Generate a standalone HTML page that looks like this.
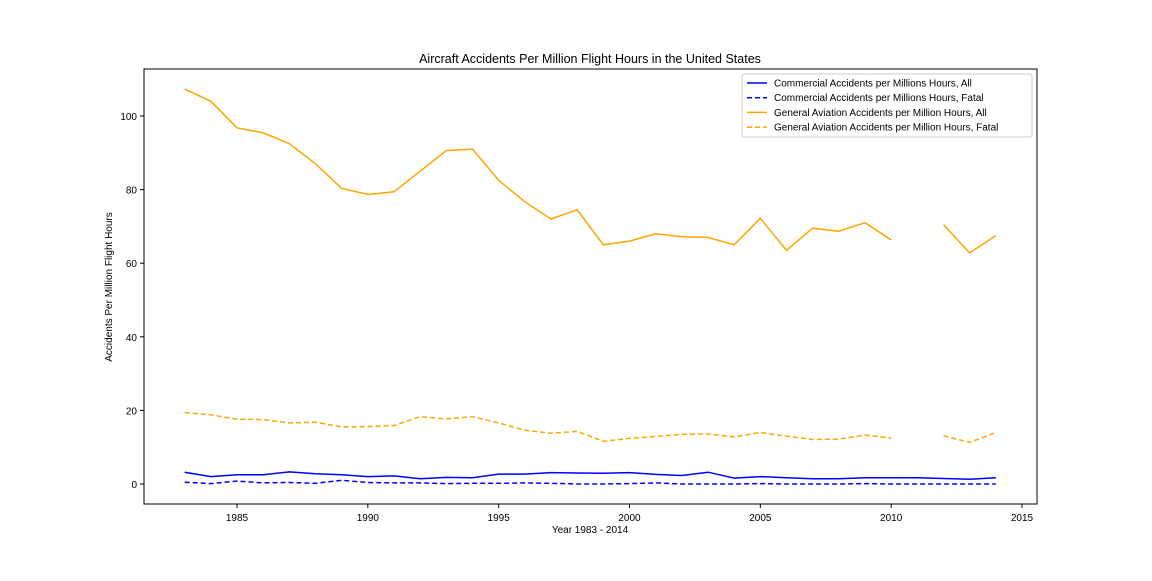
<!DOCTYPE html>
<html><head><meta charset="utf-8"><style>
body{margin:0;background:#fff;font-family:"Liberation Sans","DejaVu Sans",sans-serif;}
svg text{font-family:"Liberation Sans","DejaVu Sans",sans-serif;fill:#000;}
</style></head><body>
<svg id="chart" width="1152" height="576" xmlns="http://www.w3.org/2000/svg"></svg>
<script>
const years=[1983,1984,1985,1986,1987,1988,1989,1990,1991,1992,1993,1994,1995,1996,1997,1998,1999,2000,2001,2002,2003,2004,2005,2006,2007,2008,2009,2010,2011,2012,2013,2014];
const commAll=[3.2,2.0,2.5,2.5,3.3,2.8,2.5,2.0,2.2,1.4,1.8,1.7,2.7,2.7,3.1,3.0,2.9,3.1,2.6,2.3,3.2,1.6,2.0,1.7,1.4,1.4,1.7,1.7,1.7,1.5,1.3,1.7];
const commFatal=[0.5,0.1,0.8,0.3,0.4,0.2,1.0,0.4,0.3,0.3,0.1,0.2,0.2,0.3,0.2,0.0,0.0,0.1,0.3,0.0,0.0,0.0,0.1,0.0,0.0,0.0,0.1,0.0,0.0,0.0,0.0,0.0];
const gaAll=[107.3,104,96.8,95.4,92.5,87,80.3,78.7,79.4,85,90.6,91,82.5,76.7,72,74.5,65,66,68,67.2,67,65,72.2,63.5,69.5,68.7,71,66.3,null,70.5,62.8,67.5];
const gaFatal=[19.4,18.8,17.6,17.5,16.6,16.8,15.5,15.6,15.9,18.3,17.7,18.3,16.6,14.6,13.8,14.3,11.6,12.4,12.9,13.5,13.6,12.8,14,13,12.1,12.2,13.3,12.5,null,13.1,11.3,14];
const xTicks=[1985,1990,1995,2000,2005,2010,2015];
const yTicks=[0,20,40,60,80,100];
const legendLabels=["Commercial Accidents per Millions Hours, All","Commercial Accidents per Millions Hours, Fatal","General Aviation Accidents per Million Hours, All","General Aviation Accidents per Million Hours, Fatal"];

const L=144,R=1037,T=69,B=504;
const xs=y=>237+(y-1985)*(1022-237)/30;
const ys=v=>484-v*(484-116)/100;
const svg=document.getElementById('chart');
const NS='http://www.w3.org/2000/svg';
function mk(tag,at,txt){const e=document.createElementNS(NS,tag);for(const k in at)e.setAttribute(k,at[k]);if(txt!=null)e.textContent=txt;svg.appendChild(e);return e;}

let e=mk('rect',{x:L,y:T,width:R-L,height:B-T,fill:'none',stroke:'#000','stroke-width':1});


e=mk('text',{x:590,y:63,'text-anchor':'middle','font-size':12.5},'Aircraft Accidents Per Million Flight Hours in the United States');


xTicks.forEach(t=>{const x=xs(t);
 mk('line',{x1:x,x2:x,y1:B,y2:B+4,stroke:'#000'});
 e=mk('text',{x:x,y:B+17,'text-anchor':'middle','font-size':10},t);
 
 });
yTicks.forEach(t=>{const y=ys(t);
 mk('line',{x1:L-4,x2:L,y1:y,y2:y,stroke:'#000'});
 e=mk('text',{x:L-7,y:y+4,'text-anchor':'end','font-size':10},t);
 
 });
e=mk('text',{x:590,y:533,'text-anchor':'middle','font-size':10},'Year 1983 - 2014');


e=mk('text',{x:112,y:287,'text-anchor':'middle','font-size':10,transform:'rotate(-90 112 287)'},'Accidents Per Million Flight Hours');



function path(vals){let d='',pen=false;vals.forEach((v,i)=>{if(v==null){pen=false;return;}d+=(pen?'L':'M')+xs(years[i]).toFixed(1)+','+ys(v).toFixed(1);pen=true;});return d;}
const series=[[commAll,'#0000ff',''],[commFatal,'#0000ff','5,3'],[gaAll,'#ffa500',''],[gaFatal,'#ffa500','5,3']];
const names=['series-commercial-all','series-commercial-fatal','series-ga-all','series-ga-fatal'];
series.forEach((s,i)=>{e=mk('path',{d:path(s[0]),fill:'none',stroke:s[1],'stroke-width':1.5,'stroke-dasharray':s[2]});
 
 });

e=mk('rect',{x:742,y:74,width:290,height:63,fill:'#fff',stroke:'#ccc',rx:2});


legendLabels.forEach((lb,i)=>{const y=83+i*14.7;
 mk('line',{x1:747,x2:767,y1:y,y2:y,stroke:series[i][1],'stroke-width':1.5,'stroke-dasharray':series[i][2]});
 e=mk('text',{x:774,y:y+3.5,'font-size':10},lb);
 
 });
</script>
</body></html>
